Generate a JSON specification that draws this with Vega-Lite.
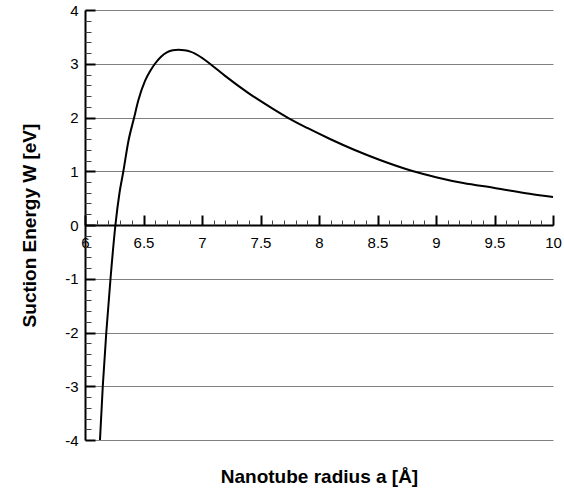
{
  "$schema": "https://vega.github.io/schema/vega-lite/v6.json",
  "width": 468,
  "height": 430,
  "autosize": {"type": "none"},
  "padding": {"left": 85, "top": 10, "right": 11, "bottom": 52},
  "background": "white",
  "config": {
    "view": {"stroke": null},
    "axis": {"labelFont": "Liberation Sans", "titleFont": "Liberation Sans", "labelColor": "black", "titleColor": "black"}
  },
  "data": {
    "values": [
      {"a": 6.128, "W": -4},
      {"a": 6.152, "W": -3},
      {"a": 6.182, "W": -2},
      {"a": 6.218, "W": -1},
      {"a": 6.26, "W": 0},
      {"a": 6.295, "W": 0.6},
      {"a": 6.328, "W": 1},
      {"a": 6.37, "W": 1.55},
      {"a": 6.42, "W": 2},
      {"a": 6.456, "W": 2.32},
      {"a": 6.513, "W": 2.68},
      {"a": 6.556, "W": 2.86},
      {"a": 6.598, "W": 3.0},
      {"a": 6.65, "W": 3.13},
      {"a": 6.7, "W": 3.21},
      {"a": 6.75, "W": 3.25},
      {"a": 6.8, "W": 3.26},
      {"a": 6.85, "W": 3.25},
      {"a": 6.9, "W": 3.225},
      {"a": 6.94, "W": 3.19},
      {"a": 7.0, "W": 3.11},
      {"a": 7.068, "W": 3.0},
      {"a": 7.2, "W": 2.77},
      {"a": 7.4, "W": 2.45},
      {"a": 7.6, "W": 2.17},
      {"a": 7.738, "W": 1.99},
      {"a": 7.9, "W": 1.805},
      {"a": 8.094, "W": 1.6},
      {"a": 8.3, "W": 1.4},
      {"a": 8.521, "W": 1.21},
      {"a": 8.806, "W": 1.0},
      {"a": 9.0, "W": 0.89},
      {"a": 9.233, "W": 0.78},
      {"a": 9.5, "W": 0.69},
      {"a": 9.8, "W": 0.58},
      {"a": 10.0, "W": 0.52}
    ]
  },
  "layer": [
    {
      "mark": {"type": "line", "color": "black", "strokeWidth": 2, "interpolate": "monotone"},
      "encoding": {
        "x": {
          "field": "a", "type": "quantitative",
          "scale": {"domain": [6, 10], "nice": false, "zero": false},
          "axis": {
            "orient": "bottom", "offset": -215,
            "values": [6, 6.5, 7, 7.5, 8, 8.5, 9, 9.5, 10],
            "labelExpr": "'' + datum.value",
            "tickSize": -10, "tickWidth": 2, "tickColor": "black",
            "domainColor": "black", "domainWidth": 2,
            "labelPadding": 20, "labelFontSize": 15, "labelFlush": false, "labelOverlap": false,
            "grid": false,
            "title": "Nanotube radius a [Å]", "titleFontSize": 19, "titleFontWeight": "bold",
            "titleBaseline": "alphabetic", "titleY": 257
          }
        },
        "y": {
          "field": "W", "type": "quantitative",
          "scale": {"domain": [-4, 4], "nice": false, "zero": false},
          "axis": {
            "orient": "left",
            "values": [-4, -3, -2, -1, 0, 1, 2, 3, 4],
            "labelExpr": "'' + datum.value",
            "tickSize": -10, "tickWidth": 2, "tickColor": "black",
            "domainColor": "black", "domainWidth": 2,
            "labelPadding": 17, "labelFontSize": 15, "labelFlush": false, "labelOverlap": false,
            "grid": true, "gridColor": "#808080", "gridOpacity": 1, "gridWidth": 1,
            "title": "Suction Energy W [eV]", "titleFontSize": 19, "titleFontWeight": "bold",
            "titleAngle": 270, "titleBaseline": "alphabetic", "titleX": -50, "titleY": 215, "titleAlign": "center"
          }
        }
      }
    },
    {
      "mark": {"type": "line", "opacity": 0},
      "encoding": {
        "x": {
          "field": "a", "type": "quantitative",
          "axis": {
            "orient": "bottom", "offset": -215,
            "values": [6.1, 6.2, 6.3, 6.4, 6.6, 6.7, 6.8, 6.9, 7.1, 7.2, 7.3, 7.4, 7.6, 7.7, 7.8, 7.9, 8.1, 8.2, 8.3, 8.4, 8.6, 8.7, 8.8, 8.9, 9.1, 9.2, 9.3, 9.4, 9.6, 9.7, 9.8, 9.9],
            "tickSize": -5, "tickWidth": 1, "tickColor": "#404040",
            "domain": false, "labels": false, "grid": false, "title": null
          }
        },
        "y": {
          "field": "W", "type": "quantitative",
          "axis": {
            "orient": "left",
            "values": [-3.8, -3.6, -3.4, -3.2, -2.8, -2.6, -2.4, -2.2, -1.8, -1.6, -1.4, -1.2, -0.8, -0.6, -0.4, -0.2, 0.2, 0.4, 0.6, 0.8, 1.2, 1.4, 1.6, 1.8, 2.2, 2.4, 2.6, 2.8, 3.2, 3.4, 3.6, 3.8],
            "tickSize": -6, "tickWidth": 1, "tickColor": "#404040",
            "domain": false, "labels": false, "grid": false, "title": null
          }
        }
      }
    }
  ],
  "resolve": {"axis": {"x": "independent", "y": "independent"}}
}
